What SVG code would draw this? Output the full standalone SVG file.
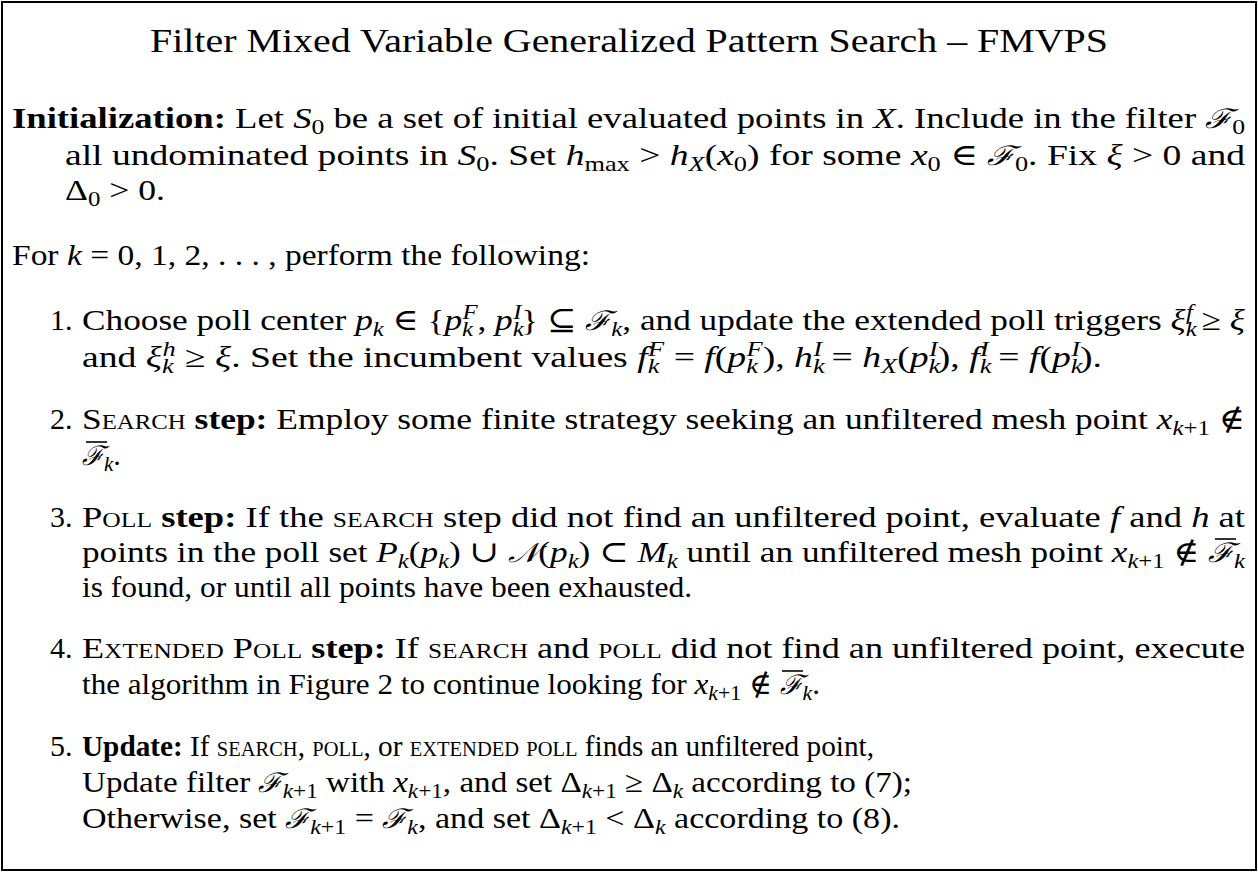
<svg xmlns="http://www.w3.org/2000/svg" width="1258" height="872" viewBox="0 0 1258 872">
<style>
text{font-family:"Liberation Serif","DejaVu Serif",serif;font-size:30px;fill:#000}
.title{font-size:34px}
.i{font-style:italic}
.b{font-weight:bold}
.sc{font-variant:small-caps}
.sub{font-size:21px;baseline-shift:-6px}
.sup{font-size:21px;baseline-shift:11px}
.cal{font-family:"DejaVu Serif",serif;font-style:italic;font-size:27px}
.bar{stroke:#000;stroke-width:1.6}
</style>
<rect x="2" y="2" width="1254" height="868" fill="#fff" stroke="#000" stroke-width="2"/>
<g id="title">
<text class="title" x="150" y="52" textLength="958" lengthAdjust="spacingAndGlyphs">Filter Mixed Variable Generalized Pattern Search – FMVPS</text>
</g>
<g id="init">
<text x="12" y="128" textLength="1233" lengthAdjust="spacingAndGlyphs"><tspan class="b">Initialization:</tspan> Let <tspan class="i">S</tspan><tspan class="sub">0</tspan> be a set of initial evaluated points in <tspan class="i">X</tspan>. Include in the filter <tspan class="cal">ℱ</tspan><tspan class="sub">0</tspan></text>
<text x="65" y="165" textLength="1180" lengthAdjust="spacingAndGlyphs">all undominated points in <tspan class="i">S</tspan><tspan class="sub">0</tspan>. Set <tspan class="i">h</tspan><tspan class="sub">max</tspan> &gt; <tspan class="i">h</tspan><tspan class="sub i">X</tspan>(<tspan class="i">x</tspan><tspan class="sub">0</tspan>) for some <tspan class="i">x</tspan><tspan class="sub">0</tspan> ∈ <tspan class="cal">ℱ</tspan><tspan class="sub">0</tspan>. Fix <tspan class="i">ξ</tspan> &gt; 0 and</text>
<text x="65" y="200" textLength="100" lengthAdjust="spacingAndGlyphs">Δ<tspan class="sub">0</tspan> &gt; 0.</text>
</g>
<g id="loop">
<text x="12" y="265" textLength="578" lengthAdjust="spacingAndGlyphs">For <tspan class="i">k</tspan> = 0, 1, 2, . . . , perform the following:</text>
</g>
<g id="step1">
<text x="50" y="330">1.</text>
<text x="82" y="330" textLength="1163" lengthAdjust="spacingAndGlyphs">Choose poll center <tspan class="i">p</tspan><tspan class="sub i">k</tspan> ∈ {<tspan class="i">p</tspan><tspan class="sub i">k</tspan><tspan class="sup i" dx="-9">F</tspan>, <tspan class="i">p</tspan><tspan class="sub i">k</tspan><tspan class="sup i" dx="-9">I</tspan>} ⊆ <tspan class="cal">ℱ</tspan><tspan class="sub i">k</tspan>, and update the extended poll triggers <tspan class="i">ξ</tspan><tspan class="sub i">k</tspan><tspan class="sup i" dx="-9">f</tspan> ≥ <tspan class="i">ξ</tspan></text>
<text x="82" y="367" textLength="1020" lengthAdjust="spacingAndGlyphs">and <tspan class="i">ξ</tspan><tspan class="sub i">k</tspan><tspan class="sup i" dx="-9">h</tspan> ≥ <tspan class="i">ξ</tspan>. Set the incumbent values <tspan class="i">f</tspan><tspan class="sub i">k</tspan><tspan class="sup i" dx="-9">F</tspan> = <tspan class="i">f</tspan>(<tspan class="i">p</tspan><tspan class="sub i">k</tspan><tspan class="sup i" dx="-9">F</tspan>), <tspan class="i">h</tspan><tspan class="sub i">k</tspan><tspan class="sup i" dx="-9">I</tspan> = <tspan class="i">h</tspan><tspan class="sub i">X</tspan>(<tspan class="i">p</tspan><tspan class="sub i">k</tspan><tspan class="sup i" dx="-9">I</tspan>), <tspan class="i">f</tspan><tspan class="sub i">k</tspan><tspan class="sup i" dx="-9">I</tspan> = <tspan class="i">f</tspan>(<tspan class="i">p</tspan><tspan class="sub i">k</tspan><tspan class="sup i" dx="-9">I</tspan>).</text>
</g>
<g id="step2">
<text x="50" y="429">2.</text>
<text x="82" y="429" textLength="1163" lengthAdjust="spacingAndGlyphs"><tspan class="sc">Search</tspan> <tspan class="b">step:</tspan> Employ some finite strategy seeking an unfiltered mesh point <tspan class="i">x</tspan><tspan class="sub i">k</tspan><tspan class="sub">+1</tspan> ∉</text>
<text x="82" y="465"><tspan class="cal">ℱ</tspan><tspan class="sub i">k</tspan>.</text>
<line class="bar" x1="86" y1="442" x2="107" y2="442"/>
</g>
<g id="step3">
<text x="50" y="527">3.</text>
<text x="82" y="527" textLength="1163" lengthAdjust="spacingAndGlyphs"><tspan class="sc">Poll</tspan> <tspan class="b">step:</tspan> If the <tspan class="sc">search</tspan> step did not find an unfiltered point, evaluate <tspan class="i">f</tspan> and <tspan class="i">h</tspan> at</text>
<text x="82" y="562" textLength="1163" lengthAdjust="spacingAndGlyphs">points in the poll set <tspan class="i">P</tspan><tspan class="sub i">k</tspan>(<tspan class="i">p</tspan><tspan class="sub i">k</tspan>) ∪ <tspan class="cal">𝒩</tspan>(<tspan class="i">p</tspan><tspan class="sub i">k</tspan>) ⊂ <tspan class="i">M</tspan><tspan class="sub i">k</tspan> until an unfiltered mesh point <tspan class="i">x</tspan><tspan class="sub i">k</tspan><tspan class="sub">+1</tspan> ∉ <tspan class="cal">ℱ</tspan><tspan class="sub i">k</tspan></text>
<line class="bar" x1="1215" y1="539" x2="1236" y2="539"/>
<text x="82" y="597" textLength="610" lengthAdjust="spacingAndGlyphs">is found, or until all points have been exhausted.</text>
</g>
<g id="step4">
<text x="50" y="658">4.</text>
<text x="82" y="658" textLength="1163" lengthAdjust="spacingAndGlyphs"><tspan class="sc">Extended Poll</tspan> <tspan class="b">step:</tspan> If <tspan class="sc">search</tspan> and <tspan class="sc">poll</tspan> did not find an unfiltered point, execute</text>
<text x="82" y="694" textLength="738" lengthAdjust="spacingAndGlyphs">the algorithm in Figure 2 to continue looking for <tspan class="i">x</tspan><tspan class="sub i">k</tspan><tspan class="sub">+1</tspan> ∉ <tspan class="cal">ℱ</tspan><tspan class="sub i">k</tspan>.</text>
<line class="bar" x1="782" y1="671" x2="803" y2="671"/>
</g>
<g id="step5">
<text x="50" y="756">5.</text>
<text x="82" y="756" textLength="792" lengthAdjust="spacingAndGlyphs"><tspan class="b">Update:</tspan> If <tspan class="sc">search</tspan>, <tspan class="sc">poll</tspan>, or <tspan class="sc">extended poll</tspan> finds an unfiltered point,</text>
<text x="82" y="792" textLength="830" lengthAdjust="spacingAndGlyphs">Update filter <tspan class="cal">ℱ</tspan><tspan class="sub i">k</tspan><tspan class="sub">+1</tspan> with <tspan class="i">x</tspan><tspan class="sub i">k</tspan><tspan class="sub">+1</tspan>, and set Δ<tspan class="sub i">k</tspan><tspan class="sub">+1</tspan> ≥ Δ<tspan class="sub i">k</tspan> according to (7);</text>
<text x="82" y="828" textLength="818" lengthAdjust="spacingAndGlyphs">Otherwise, set <tspan class="cal">ℱ</tspan><tspan class="sub i">k</tspan><tspan class="sub">+1</tspan> = <tspan class="cal">ℱ</tspan><tspan class="sub i">k</tspan>, and set Δ<tspan class="sub i">k</tspan><tspan class="sub">+1</tspan> &lt; Δ<tspan class="sub i">k</tspan> according to (8).</text>
</g>
</svg>
